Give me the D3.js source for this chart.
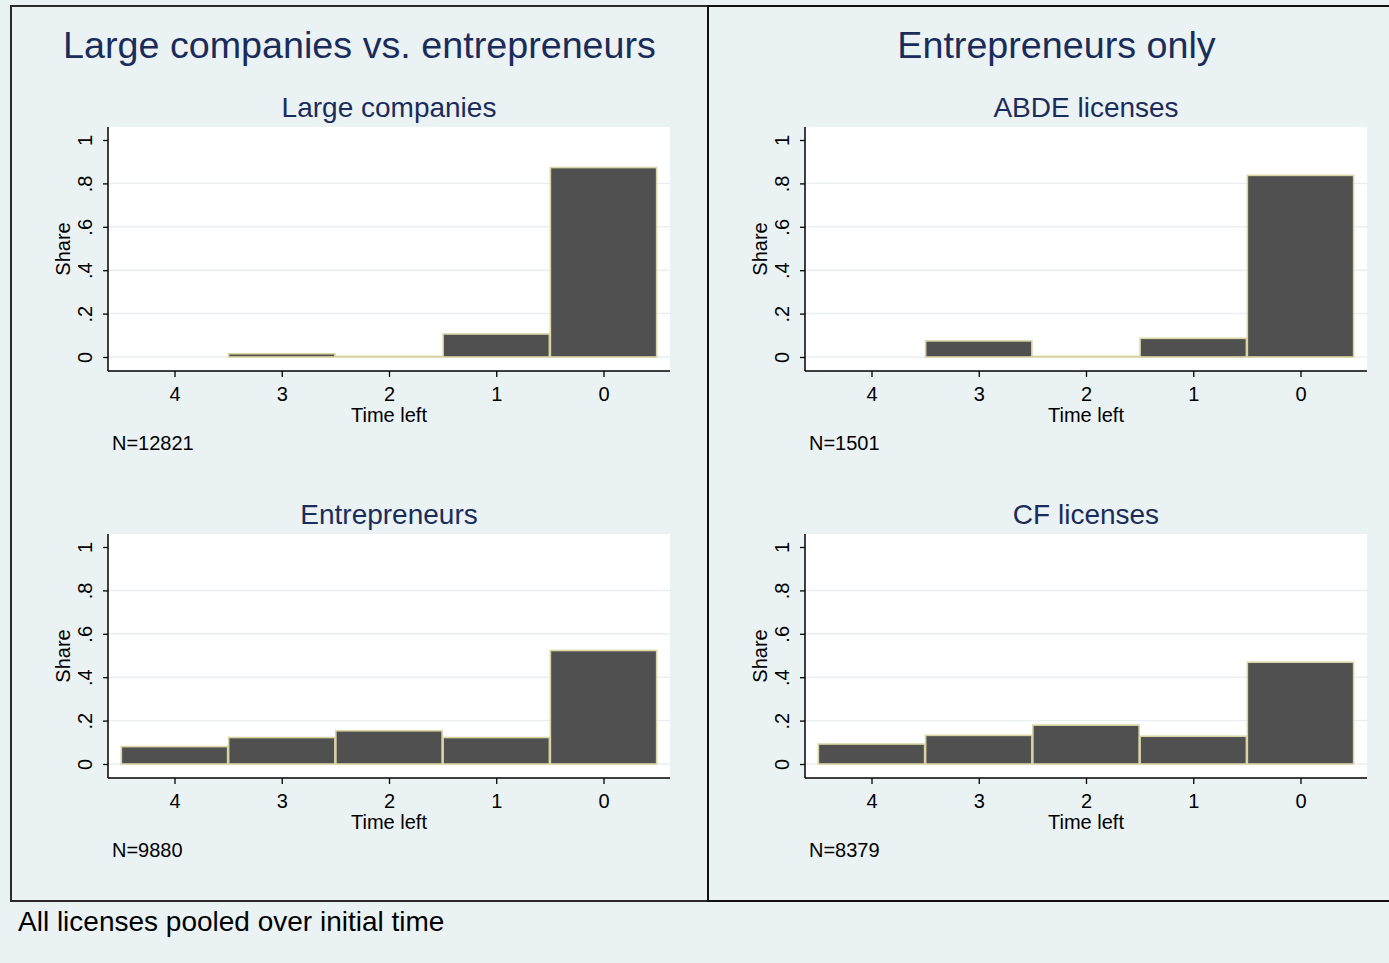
<!DOCTYPE html>
<html>
<head>
<meta charset="utf-8">
<script src="https://cdn.jsdelivr.net/npm/d3@7"></script>
<style>
  html, body { margin: 0; padding: 0; background: #eaf2f3; }
  svg text { font-family: "Liberation Sans", Arial, sans-serif; }
</style>
</head>
<body>
<svg id="chart" width="1389" height="963"></svg>
<script>
// ---- data ----
const timeLeft = [4, 3, 2, 1, 0];
const largeCompanies = [0, 0.015, 0.003, 0.106, 0.873];
const abdeLicenses   = [0, 0.074, 0.003, 0.086, 0.837];
const entrepreneurs  = [0.080, 0.122, 0.153, 0.122, 0.523];
const cfLicenses     = [0.092, 0.132, 0.179, 0.128, 0.469];
const panelTitles = ["Large companies", "ABDE licenses", "Entrepreneurs", "CF licenses"];
const nLabels = ["N=12821", "N=1501", "N=9880", "N=8379"];
const columnTitles = ["Large companies vs. entrepreneurs", "Entrepreneurs only"];
const yTicks = [0, 0.2, 0.4, 0.6, 0.8, 1];
const yTickLabels = ["0", ".2", ".4", ".6", ".8", "1"];
const yTitle = "Share";
const xTitle = "Time left";
const note = "All licenses pooled over initial time";

// ---- styles ----
const BG = "#eaf2f3";
const TITLE_COL = "#1c2c5a";
const BAR_FILL = "#505050";
const BAR_STROKE = "#d9d4a4";
const GRID = "#e8eff1";

const svg = d3.select("#chart");
svg.append("rect").attr("width", 1389).attr("height", 963).attr("fill", BG);

const colW = 697, rowH = 407;
const panels = [
  {col: 0, row: 0, values: largeCompanies},
  {col: 1, row: 0, values: abdeLicenses},
  {col: 0, row: 1, values: entrepreneurs},
  {col: 1, row: 1, values: cfLicenses}
];

// frames
[0, 1].forEach(c => {
  svg.append("rect")
    .attr("x", 11 + c * colW).attr("y", 6)
    .attr("width", colW).attr("height", 895)
    .attr("fill", "none").attr("stroke", c === 0 ? "#2a2a2a" : "#111")
    .attr("stroke-width", 2);
  svg.append("text")
    .attr("x", 11 + c * colW + colW / 2).attr("y", 58)
    .attr("text-anchor", "middle").attr("font-size", 37.7)
    .attr("fill", TITLE_COL).text(columnTitles[c]);
});

panels.forEach((p, i) => {
  const dx = p.col * colW, dy = p.row * rowH;
  const left = 108 + dx, right = 670 + dx, top = 127 + dy, bottom = 371 + dy;
  const x = d3.scaleLinear().domain([4.62, -0.62]).range([left, right]);
  const y = d3.scaleLinear().domain([0, 1]).range([357 + dy, 140 + dy]);
  const bw = x(0) - x(1);

  const g = svg.append("g");
  g.append("rect").attr("x", left).attr("y", top)
    .attr("width", right - left).attr("height", bottom - top).attr("fill", "#ffffff");

  // gridlines
  g.selectAll(".grid").data(yTicks.filter(t => t < 1)).enter().append("line")
    .attr("x1", left).attr("x2", right)
    .attr("y1", d => y(d)).attr("y2", d => y(d))
    .attr("stroke", GRID).attr("stroke-width", 1.5);

  // bars
  const data = timeLeft.map((t, j) => ({t, v: p.values[j]})).filter(d => d.v > 0);
  g.selectAll(".bar").data(data).enter().append("rect")
    .attr("x", d => x(d.t) - bw / 2 + 0.5)
    .attr("width", bw - 1)
    .attr("y", d => y(d.v))
    .attr("height", d => y(0) - y(d.v))
    .attr("fill", BAR_FILL).attr("stroke", BAR_STROKE).attr("stroke-width", 1.6);

  // y axis
  const yAxis = d3.axisLeft(y).tickValues(yTicks)
    .tickFormat((d, k) => yTickLabels[k]).tickSize(5).tickSizeOuter(0);
  const ya = g.append("g").attr("transform", `translate(${left},0)`).call(yAxis);
  ya.select(".domain").attr("d", `M0,${top}V${bottom}`).attr("stroke", "#000").attr("stroke-width", 1.5);
  ya.selectAll(".tick line").attr("stroke", "#000").attr("stroke-width", 1.3);
  ya.selectAll(".tick text")
    .attr("font-size", 20).attr("fill", "#000")
    .attr("x", null).attr("dy", null)
    .attr("text-anchor", "middle")
    .attr("transform", "translate(-16,0) rotate(-90)");

  // x axis
  const xAxis = d3.axisBottom(x).tickValues(timeLeft).tickFormat(d3.format("d"))
    .tickSize(6).tickSizeOuter(0);
  const xa = g.append("g").attr("transform", `translate(0,${bottom})`).call(xAxis);
  xa.select(".domain").attr("d", `M${left},0H${right}`).attr("stroke", "#000").attr("stroke-width", 1.5);
  xa.selectAll(".tick line").attr("stroke", "#000").attr("stroke-width", 1.3);
  xa.selectAll(".tick text").attr("font-size", 20).attr("fill", "#000")
    .attr("y", 30).attr("dy", null);

  // axis titles
  g.append("text").attr("transform", `translate(${70 + dx},${(top + bottom) / 2}) rotate(-90)`)
    .attr("text-anchor", "middle").attr("font-size", 20).attr("fill", "#000").text(yTitle);
  g.append("text").attr("x", (left + right) / 2).attr("y", bottom + 51)
    .attr("text-anchor", "middle").attr("font-size", 20).attr("fill", "#000").text(xTitle);

  // panel title
  g.append("text").attr("x", (left + right) / 2).attr("y", 117 + dy)
    .attr("text-anchor", "middle").attr("font-size", 28).attr("fill", TITLE_COL).text(panelTitles[i]);

  // N note
  g.append("text").attr("x", 112 + dx).attr("y", 450 + dy)
    .attr("font-size", 20).attr("fill", "#000").text(nLabels[i]);
});

svg.append("text").attr("x", 18).attr("y", 931)
  .attr("font-size", 28).attr("fill", "#000").text(note);
</script>
</body>
</html>
